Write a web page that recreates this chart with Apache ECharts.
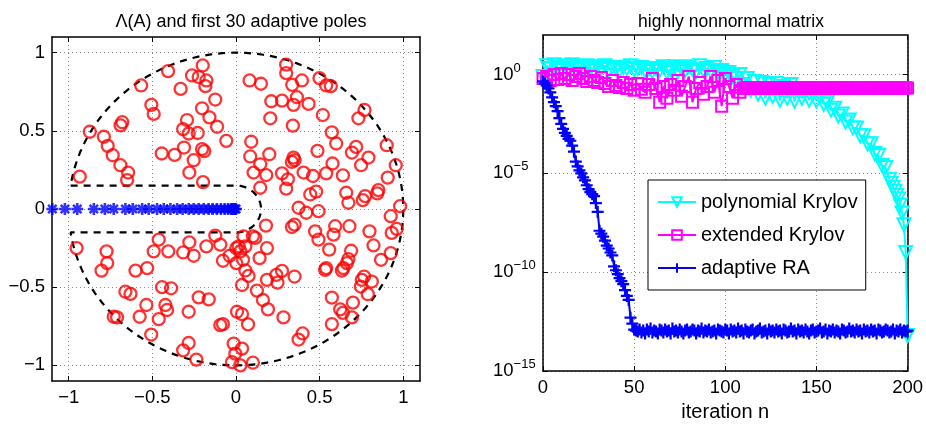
<!DOCTYPE html>
<html><head><meta charset="utf-8">
<script src="https://cdn.jsdelivr.net/npm/echarts@6/dist/echarts.min.js"></script>
<style>html,body{margin:0;padding:0;background:#fff}#c{width:926px;height:427px}</style>
</head><body><div id="c"></div>
<script>
// ---------- DATA ----------
const leftTitle = 'Λ(A) and first 30 adaptive poles';
const rightTitle = 'highly nonnormal matrix';
const leftTicks = [-1, -0.5, 0, 0.5, 1];
const iterTicks = [0, 50, 100, 150, 200];
const resTicks = [1e-15, 1e-10, 1e-5, 1];
const seriesNames = ['polynomial Krylov', 'extended Krylov', 'adaptive RA'];

// eigenvalues of A: [real, imag]
const eigenvalues = [
[-0.934,0.207],[-0.874,0.494],[-0.790,0.462],[-0.767,0.404],[-0.737,0.344],[-0.691,0.280],[-0.645,0.233],[-0.651,0.185],[-0.690,0.535],[-0.680,0.555],
[-0.567,0.790],[-0.506,0.666],[-0.492,0.608],[-0.406,0.882],[-0.444,0.355],[-0.367,0.346],[-0.331,0.768],[-0.311,0.393],[-0.316,0.511],[-0.293,0.569],
[-0.283,0.483],[-0.229,0.486],[-0.253,0.312],[-0.279,0.233],[-0.203,0.383],[-0.190,0.370],[-0.197,0.172],[-0.263,0.854],[-0.223,0.844],[-0.199,0.918],
[-0.177,0.822],[-0.183,0.786],[-0.124,0.700],[-0.203,0.644],[-0.159,0.586],[-0.113,0.526],[-0.058,0.436],
[0.081,0.822],[0.149,0.801],[0.300,0.923],[0.300,0.869],[0.336,0.794],[0.394,0.822],[0.364,0.715],[0.344,0.666],[0.211,0.689],[0.275,0.693],
[0.434,0.672],[0.205,0.580],[0.340,0.533],[0.499,0.837],[0.539,0.790],[0.567,0.786],[0.519,0.601],[0.732,0.580],[0.768,0.633],[0.573,0.490],
[0.599,0.419],[0.091,0.430],[0.085,0.336],[0.199,0.350],[0.145,0.286],[0.105,0.233],[0.181,0.217],[0.145,0.136],[0.275,0.228],[0.310,0.190],
[0.300,0.130],[0.334,0.301],[0.344,0.329],[0.350,0.312],[0.404,0.233],[0.460,0.211],[0.487,0.372],[0.539,0.228],[0.577,0.291],[0.639,0.215],
[0.693,0.361],[0.718,0.397],[0.792,0.329],[0.748,0.280],[0.901,0.408],[0.955,0.280],[0.907,0.201],[0.851,0.121],[0.845,0.100],[0.659,0.104],
[0.672,0.040],[0.758,0.057],[0.772,0.082],[0.444,0.093],[0.479,0.111],[0.374,0.008],[0.420,-0.024],[0.493,-0.014],[0.981,0.018],[0.925,-0.046],
[0.179,-0.106],[0.334,-0.115],[0.350,-0.100],[0.473,-0.143],[0.493,-0.196],[0.593,-0.110],[0.583,-0.164],[0.678,-0.110],[0.798,-0.143],[0.931,-0.153],
[0.961,-0.127],[0.822,-0.233],[0.925,-0.282],[0.867,-0.325],[0.557,-0.260],[0.688,-0.267],[0.672,-0.320],[0.663,-0.346],[0.642,-0.378],[0.633,-0.394],
[0.539,-0.378],[0.533,-0.389],[0.766,-0.432],[0.752,-0.453],[0.746,-0.496],[0.812,-0.464],[0.788,-0.545],[0.573,-0.567],[0.699,-0.599],[0.623,-0.642],
[0.639,-0.664],[0.693,-0.693],[0.573,-0.736],[0.398,-0.796],[0.374,-0.835],[0.284,-0.693],[0.350,-0.432],[0.275,-0.396],[0.241,-0.421],[0.248,-0.471],
[0.185,-0.453],[0.125,-0.522],[0.161,-0.582],[0.191,-0.642],[0.036,-0.486],[0.075,-0.428],[0.056,-0.393],[0.042,-0.325],[0.002,-0.346],[-0.078,-0.331],
[-0.038,-0.299],[0.026,-0.271],[0.141,-0.314],[0.185,-0.250],[0.115,-0.185],[0.101,-0.175],[0.045,-0.175],[0.056,-0.239],[0.016,-0.239],[0.002,-0.250],
[-0.094,-0.228],[-0.124,-0.170],[-0.177,-0.239],[-0.163,-0.578],[0.006,-0.657],[0.036,-0.672],[0.072,-0.738],[-0.094,-0.743],[-0.078,-0.736],[-0.014,-0.861],
[0.036,-0.893],[-0.004,-0.925],[-0.024,-0.979],[0.026,-1.000],[0.101,-0.983],
[-0.953,-0.250],[-0.774,-0.271],[-0.770,-0.346],[-0.804,-0.394],[-0.601,-0.394],[-0.531,-0.378],[-0.462,-0.196],[-0.492,-0.271],[-0.405,-0.271],[-0.316,-0.278],
[-0.279,-0.213],[-0.253,-0.299],[-0.661,-0.529],[-0.631,-0.543],[-0.442,-0.500],[-0.388,-0.507],[-0.536,-0.614],[-0.422,-0.614],[-0.412,-0.646],[-0.223,-0.565],
[-0.283,-0.657],[-0.576,-0.689],[-0.462,-0.704],[-0.731,-0.689],[-0.711,-0.693],[-0.507,-0.803],[-0.283,-0.857],[-0.316,-0.904],[-0.237,-0.963]
];

// adaptive poles (real, on negative axis)
const poles = [-1.098,-1.023,-0.949,-0.850,-0.784,-0.731,-0.661,-0.617,-0.561,-0.522,-0.472,-0.432,-0.392,-0.352,-0.319,-0.283,
-0.253,-0.223,-0.193,-0.164,-0.140,-0.114,-0.090,-0.068,-0.048,-0.030,-0.022,-0.014,-0.006,0.000];

// boundary region parameters
const diskRadius = 1;
const slitHalfWidth = 0.15;

// iteration grids
const range = (a, b, s) => { const r = []; for (let v = a; v <= b; v += s) r.push(v); return r; };
const polyIter = range(0, 190, 2).concat(range(191, 200, 1));
const extIter = range(0, 110, 2).concat(range(111, 200, 1));
const adaptIter = range(0, 200, 1);

// residuals (log10 values)
const polyLog10 = [-0.1,0.45,0.3,0.5,0.35,0.2,0.45,0.3,0.5,0.25,0.4,0.3,0.45,0.35,0.2,0.4,0.3,0.45,0.25,0.35,0.3,0.2,0.35,0.3,0.45,0.25,0.3,0.35,0.2,0.3,
0.15,0.3,0.2,0.4,0.1,0.25,0.4,0.15,0.3,0.2,0.4,0.25,0.15,0.45,0.2,0.3,0.15,0.35,0.1,0.2,
0.0,0.1,-0.1,-0.2,0.0,-0.5,-0.2,-0.8,-0.35,-1.0,-0.4,-1.2,-0.5,-1.1,-0.45,-1.3,-0.6,-1.2,-0.5,-1.35,-0.7,-1.2,-0.8,-1.3,-0.9,
-1.35,-1.1,-1.5,-1.4,-1.8,-1.7,-2.1,-2.0,-2.4,-2.3,-2.7,-2.7,-3.1,-3.1,-3.5,-3.5,-4.0,-4.1,-4.6,-4.7,-5.3,
-5.5,-5.7,-5.9,-6.1,-6.3,-6.6,-7.0,-7.6,-9.0,-13.2];

const extLog10 = [-0.2,-0.1,-0.3,0.0,-0.25,0.05,-0.2,0.0,-0.3,-0.1,
0.05,-0.2,-0.35,-0.1,-0.3,-0.4,-0.15,-0.45,-0.6,-0.3,
-0.55,-0.65,-0.4,-0.7,-0.5,-0.8,-0.45,-0.75,-0.9,-0.5,
-0.2,-0.7,-1.4,-0.6,-1.2,-0.5,-0.8,-0.3,-1.1,-0.6,
-0.1,-1.4,-0.7,-0.4,-1.0,-0.6,-0.1,-0.9,-0.3,-1.6,
-0.2,-0.6,-1.2,-0.5,-0.9,-0.7,
-0.68,-0.66,-0.7,-0.67,-0.69,-0.68,-0.66,-0.7,-0.68,-0.67,
-0.69,-0.68,-0.67,-0.68,-0.69,-0.67,-0.68,-0.7,-0.68,-0.67,
-0.68,-0.69,-0.67,-0.68,-0.68,-0.69,-0.67,-0.68,-0.68,-0.67,
-0.69,-0.68,-0.67,-0.68,-0.69,-0.68,-0.67,-0.68,-0.68,-0.69,
-0.67,-0.68,-0.68,-0.69,-0.68,-0.67,-0.68,-0.68,-0.69,-0.68,
-0.67,-0.68,-0.69,-0.68,-0.67,-0.68,-0.68,-0.69,-0.68,-0.67,
-0.68,-0.68,-0.69,-0.68,-0.67,-0.68,-0.68,-0.69,-0.68,-0.67,
-0.68,-0.69,-0.68,-0.67,-0.68,-0.68,-0.69,-0.68,-0.67,-0.68,
-0.68,-0.69,-0.68,-0.67,-0.68,-0.68,-0.69,-0.68,-0.67,-0.68];

const adaptLog10 = [-0.35,-0.45,-0.55,-0.7,-0.9,-1.15,-1.4,-1.6,-1.85,-2.2,-2.5,-2.75,-2.95,-3.1,-3.25,-3.35,-3.6,-3.9,-4.4,-4.65,
-4.85,-5.0,-5.2,-5.35,-5.6,-5.8,-5.95,-6.05,-6.15,-6.5,-6.95,-7.9,-8.05,-8.2,-8.4,-8.65,-8.8,-9.0,-9.15,-9.7,
-9.9,-10.1,-10.3,-10.45,-10.6,-10.9,-11.2,-11.4,-12.3,-12.6,-12.9,
-12.95,-13.0,-12.9,-13.05,-12.95,-13.1,-12.9,-13.0,-12.85,-13.05,
-12.95,-13.0,-13.1,-12.9,-12.95,-13.05,-12.9,-13.0,-12.95,-13.1,
-12.85,-13.0,-12.95,-13.05,-12.9,-13.0,-13.1,-12.95,-12.9,-13.05,
-13.0,-12.9,-12.95,-13.1,-12.95,-13.0,-12.85,-13.05,-12.95,-13.0,
-12.9,-13.05,-13.0,-12.95,-13.1,-12.9,-12.95,-13.0,-13.05,-12.9,
-12.95,-13.1,-12.9,-13.0,-12.95,-13.05,-12.85,-13.0,-12.95,-13.1,
-12.9,-13.0,-13.05,-12.95,-12.9,-13.1,-13.0,-12.95,-12.85,-13.05,
-13.0,-12.95,-13.1,-12.9,-13.0,-12.95,-13.05,-12.9,-13.0,-12.95,
-13.1,-12.9,-12.95,-13.05,-13.0,-12.85,-13.0,-12.95,-13.1,-12.9,
-13.0,-12.95,-13.05,-12.9,-13.0,-13.1,-12.95,-12.9,-13.05,-13.0,
-12.95,-12.85,-13.05,-13.0,-12.9,-13.1,-12.95,-13.0,-12.9,-13.05,
-12.95,-13.0,-13.1,-12.9,-12.95,-13.05,-13.0,-12.85,-13.0,-12.95,
-13.05,-12.9,-13.0,-12.95,-13.1,-12.9,-13.0,-12.95,-13.05,-12.9,
-13.0,-12.95,-13.1,-12.9,-12.95,-13.05,-13.0,-12.9,-12.95,-13.05,
-13.0,-12.9,-13.1,-12.95,-13.0,-12.9,-13.05,-12.95,-13.0,-12.95];

// ---------- build ----------
const FONT = 'Liberation Sans, Arial, Helvetica, sans-serif';
const toPairs = (xs, logs) => xs.map((x, i) => [x, Math.pow(10, logs[i])]);

function boundaryPath() {
  const pts = [];
  const x0 = -Math.sqrt(diskRadius * diskRadius - slitHalfWidth * slitHalfWidth);
  pts.push([x0, slitHalfWidth], [0, slitHalfWidth]);
  for (let a = 90; a >= -90; a -= 5) {
    const t = a * Math.PI / 180;
    pts.push([slitHalfWidth * Math.cos(t), slitHalfWidth * Math.sin(t)]);
  }
  pts.push([x0, -slitHalfWidth]);
  const th0 = Math.asin(slitHalfWidth / diskRadius) * 180 / Math.PI;
  for (let a = -180 + th0; a <= 180 - th0 + 1e-9; a += 2) {
    const t = a * Math.PI / 180;
    pts.push([diskRadius * Math.cos(t), diskRadius * Math.sin(t)]);
  }
  pts.push([x0, slitHalfWidth]);
  return pts;
}

const minus = s => String(s).replace('-', '\u2212');
const gridLine = { show: true, lineStyle: { color: '#8a8a8a', type: [1, 3], width: 1 } };
const axLine = { show: true, onZero: false, lineStyle: { color: '#000', width: 1.5 } };

function mkX(gi, pos, min, max, ticks, labels) {
  return {
    gridIndex: gi, type: 'value', position: pos, min, max,
    axisLine: axLine,
    axisTick: { show: true, inside: true, length: 5, customValues: ticks, lineStyle: { color: '#000', width: 1 } },
    axisLabel: labels ? { show: true, customValues: ticks, formatter: v => minus(v), fontSize: 18.5, color: '#000', fontFamily: FONT, margin: 7 } : { show: false },
    splitLine: labels ? gridLine : { show: false }
  };
}

const chart = echarts.init(document.getElementById('c'), null, { renderer: 'canvas' });
const option = {
  animation: false,
  backgroundColor: '#fff',
  textStyle: { fontFamily: FONT },
  title: [
    { text: leftTitle, left: 236, top: 8, textAlign: 'center', textStyle: { fontSize: 18, fontWeight: 'normal', color: '#000', fontFamily: FONT } },
    { text: rightTitle, left: 726, top: 8, textAlign: 'center', textStyle: { fontSize: 17.5, fontWeight: 'normal', color: '#000', fontFamily: FONT } }
  ],
  grid: [
    { left: 52, top: 37, width: 368, height: 344, containLabel: false },
    { left: 543, top: 35, width: 367, height: 344, containLabel: false }
  ],
  legend: {
    orient: 'vertical', left: 648, top: 180,
    padding: [12, 8, 12, 9], itemGap: 13, itemWidth: 38, itemHeight: 12,
    backgroundColor: '#fff', borderColor: '#000', borderWidth: 1,
    textStyle: { fontSize: 20, color: '#000', fontFamily: FONT, lineHeight: 20 },
    data: seriesNames
  },
  xAxis: [
    mkX(0, 'bottom', -1.1, 1.1, leftTicks, true),
    mkX(0, 'top', -1.1, 1.1, leftTicks, false),
    Object.assign(mkX(1, 'bottom', 0, 200, iterTicks, true), {
      name: 'iteration n', nameLocation: 'middle', nameGap: 26,
      nameTextStyle: { fontSize: 20, color: '#000', fontFamily: FONT }
    }),
    mkX(1, 'top', 0, 200, iterTicks, false)
  ],
  yAxis: [
    mkX(0, 'left', -1.1, 1.1, leftTicks, true),
    mkX(0, 'right', -1.1, 1.1, leftTicks, false),
    {
      gridIndex: 1, type: 'log', logBase: 10, position: 'left', min: 1e-15, max: 1e2,
      axisLine: axLine,
      axisTick: { show: true, inside: true, length: 5, customValues: resTicks, lineStyle: { color: '#000' } },
      axisLabel: {
        show: true, customValues: resTicks, align: 'left', margin: 50,
        formatter: v => '{b|10}{s|' + minus(Math.round(Math.log10(v))) + '}',
        rich: {
          b: { fontSize: 18.5, color: '#000', fontFamily: FONT },
          s: { fontSize: 13, color: '#000', fontFamily: FONT, padding: [0, 0, 13, 0] }
        }
      },
      splitLine: gridLine
    },
    {
      gridIndex: 1, type: 'log', logBase: 10, position: 'right', min: 1e-15, max: 1e2,
      axisLine: axLine,
      axisTick: { show: true, inside: true, length: 5, customValues: resTicks, lineStyle: { color: '#000' } },
      axisLabel: { show: false }, splitLine: { show: false }
    }
  ],
  series: [
    {
      type: 'line', xAxisIndex: 0, yAxisIndex: 0, data: boundaryPath(), showSymbol: false, symbol: 'none',
      lineStyle: { color: '#000', width: 2.2, type: [7, 6] }, silent: true, z: 1
    },
    {
      type: 'scatter', xAxisIndex: 0, yAxisIndex: 0, data: eigenvalues, symbol: 'circle', symbolSize: 12,
      itemStyle: { color: 'rgba(0,0,0,0)', borderColor: '#ff0000', borderWidth: 2.3 }, z: 2
    },
    {
      type: 'scatter', xAxisIndex: 0, yAxisIndex: 0, data: poles.map(p => [p, 0]),
      symbol: 'path://M5,0L5,10M0,5L10,5M1.5,1.5L8.5,8.5M8.5,1.5L1.5,8.5', symbolSize: 12,
      itemStyle: { color: 'rgba(0,0,0,0)', borderColor: '#0000ff', borderWidth: 2.6 }, z: 3
    },
    {
      name: seriesNames[0], type: 'line', xAxisIndex: 2, yAxisIndex: 2, data: toPairs(polyIter, polyLog10),
      symbol: 'triangle', symbolRotate: 180, symbolSize: 13, showAllSymbol: true,
      color: '#00ffff',
      itemStyle: { color: 'rgba(0,0,0,0)', borderColor: '#00ffff', borderWidth: 2 },
      lineStyle: { color: '#00ffff', width: 2 }, z: 3
    },
    {
      name: seriesNames[1], type: 'line', xAxisIndex: 2, yAxisIndex: 2, data: toPairs(extIter, extLog10),
      symbol: 'rect', symbolSize: 11, showAllSymbol: true,
      color: '#ff00ff',
      itemStyle: { color: 'rgba(0,0,0,0)', borderColor: '#ff00ff', borderWidth: 2 },
      lineStyle: { color: '#ff00ff', width: 2 }, z: 4
    },
    {
      name: seriesNames[2], type: 'line', xAxisIndex: 2, yAxisIndex: 2, data: toPairs(adaptIter, adaptLog10),
      symbol: 'path://M0,5L10,5M5,0L5,10', symbolSize: 12, showAllSymbol: true,
      color: '#0000ff',
      itemStyle: { color: 'rgba(0,0,0,0)', borderColor: '#0000ff', borderWidth: 2.2 },
      lineStyle: { color: '#0000ff', width: 2 }, z: 5
    }
  ]
};
chart.setOption(option);
</script></body></html>
